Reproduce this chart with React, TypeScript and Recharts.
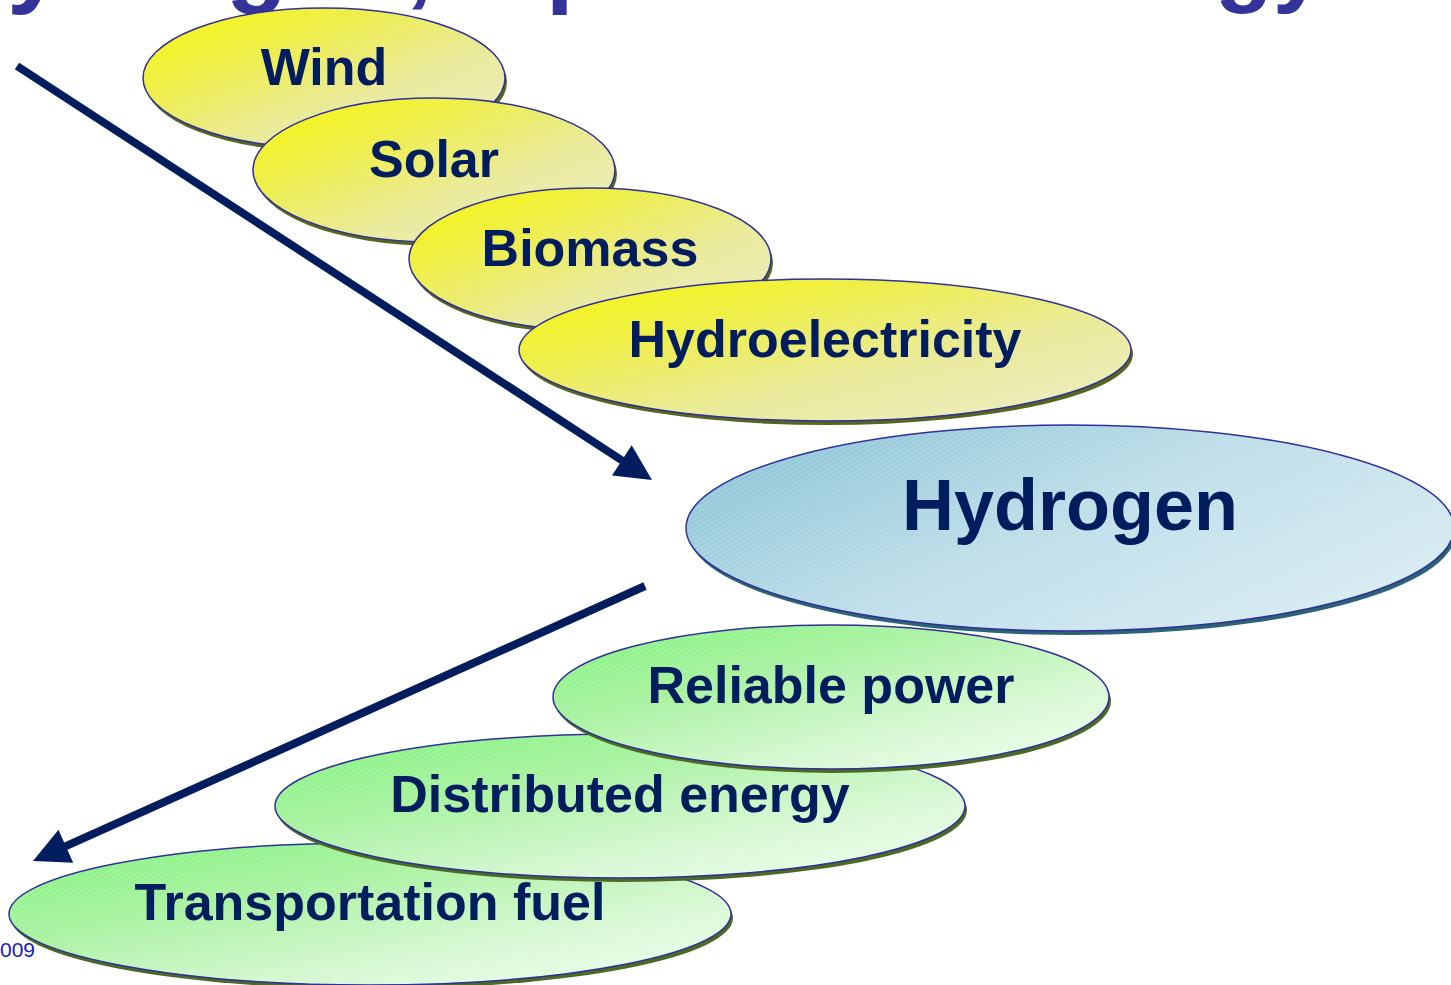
import { ComposedChart, Scatter, XAxis, YAxis } from 'recharts';

const W = 1451;
const H = 985;
const X_DOMAIN: [number, number] = [0, 1451];
const Y_DOMAIN: [number, number] = [0, 985];

// primary sources (yellow), listed back to front
const sourceLabels = ['Wind', 'Solar', 'Biomass', 'Hydroelectricity'];
const sourceX = [324, 434, 590, 825];
const sourceY = [78, 170, 259, 350];
const sourceRx = [181, 181, 181, 306];
const sourceRy = [70, 72, 71, 71];

// carrier (blue)
const carrierLabels = ['Hydrogen'];
const carrierX = [1070];
const carrierY = [528];
const carrierRx = [384];
const carrierRy = [103];

// end uses (green), back to front
const useLabels = ['Transportation fuel', 'Distributed energy', 'Reliable power'];
const useX = [370, 620, 831];
const useY = [914, 806, 697];
const useRx = [361, 345, 278];
const useRy = [71, 72, 72];

// flow arrows
const arrowFromX = [17, 645];
const arrowFromY = [66, 586];
const arrowToX = [652, 33];
const arrowToY = [480, 861];

// slide title, cut off by the top edge
const titleParts = ['Hydrogen, a potential', 'energy'];
const titleX = [-66, 1014];
const titleY = [-6, -6];

const footLabels = ['009'];
const footX = [0];
const footY = [957];

const kx = W / (X_DOMAIN[1] - X_DOMAIN[0]);
const ky = H / (Y_DOMAIN[1] - Y_DOMAIN[0]);

const toBubbles = (labels: string[], xs: number[], ys: number[], rxs: number[], rys: number[]) =>
  labels.map((label, i) => ({ label, x: xs[i], y: ys[i], rx: rxs[i], ry: rys[i] }));

const sources = toBubbles(sourceLabels, sourceX, sourceY, sourceRx, sourceRy);
const carrier = toBubbles(carrierLabels, carrierX, carrierY, carrierRx, carrierRy);
const uses = toBubbles(useLabels, useX, useY, useRx, useRy);
const arrows = arrowFromX.map((x, i) => ({ x, y: arrowFromY[i], tx: arrowToX[i], ty: arrowToY[i] }));
const titles = titleParts.map((label, i) => ({ label, x: titleX[i], y: titleY[i] }));
const foots = footLabels.map((label, i) => ({ label, x: footX[i], y: footY[i] }));

const FONT = "'Liberation Sans', Arial, Helvetica, sans-serif";
const NAVY = '#021d5e';

const bubble = (grad: string, shadow: string, fontSize: number, dy: number) => (props: any) => {
  const { cx, cy, payload } = props;
  const rx = payload.rx * kx;
  const ry = payload.ry * ky;
  return (
    <g>
      <ellipse cx={cx + 2} cy={cy + 4} rx={rx} ry={ry} fill={shadow} />
      <ellipse cx={cx} cy={cy} rx={rx} ry={ry} fill={`url(#${grad})`} />
      <ellipse cx={cx} cy={cy} rx={rx} ry={ry} fill="url(#hatch)" stroke="#30309a" strokeWidth={1.5} />
      <text x={cx} y={cy + dy} textAnchor="middle" fontFamily={FONT} fontWeight="bold" fontSize={fontSize} fill={NAVY}>
        {payload.label}
      </text>
    </g>
  );
};

const ArrowShape = (props: any) => {
  const { cx, cy, payload } = props;
  const ex = cx + (payload.tx - payload.x) * kx;
  const ey = cy + (payload.ty - payload.y) * ky;
  const len = Math.hypot(ex - cx, ey - cy);
  const ux = (ex - cx) / len;
  const uy = (ey - cy) / len;
  const head = 36;
  const half = 18;
  const bx = ex - ux * head;
  const by = ey - uy * head;
  const pts = [
    [ex, ey],
    [bx - uy * half, by + ux * half],
    [bx + uy * half, by - ux * half],
  ].map((p) => p.join(',')).join(' ');
  return (
    <g>
      <line x1={cx} y1={cy} x2={bx + ux * 3} y2={by + uy * 3} stroke={NAVY} strokeWidth={8} />
      <polygon points={pts} fill={NAVY} />
    </g>
  );
};

const TitleShape = (props: any) => (
  <text x={props.cx} y={props.cy} fontFamily={FONT} fontWeight="bold" fontSize={props.index === 0 ? 101 : 95} fill="#333399">
    {props.payload.label}
  </text>
);

const FootShape = (props: any) => (
  <text x={props.cx} y={props.cy} fontFamily={FONT} fontSize={21} fill="#1c1cb0">
    {props.payload.label}
  </text>
);

export default function App() {
  return (
    <div style={{ position: 'fixed', left: 0, top: 0, width: W, height: H, background: '#fff', overflow: 'hidden' }}>
      <ComposedChart width={W} height={H} margin={{ top: 0, right: 0, bottom: 0, left: 0 }}>
        <defs>
          <linearGradient id="gYellow" x1="0" y1="0" x2="1" y2="1">
            <stop offset="0" stopColor="#f8f800" />
            <stop offset="0.3" stopColor="#eeee40" />
            <stop offset="0.62" stopColor="#e9e998" />
            <stop offset="1" stopColor="#eeeec6" />
          </linearGradient>
          <linearGradient id="gGreen" x1="0" y1="0" x2="1" y2="1">
            <stop offset="0" stopColor="#7ef47a" />
            <stop offset="0.35" stopColor="#a8f2a0" />
            <stop offset="0.7" stopColor="#d8f8d4" />
            <stop offset="1" stopColor="#f2fff2" />
          </linearGradient>
          <linearGradient id="gBlue" x1="0" y1="0.2" x2="1" y2="0.8">
            <stop offset="0" stopColor="#8cc4d6" />
            <stop offset="0.45" stopColor="#bcdde8" />
            <stop offset="1" stopColor="#dbedf3" />
          </linearGradient>
          <pattern id="hatch" width="4" height="4" patternUnits="userSpaceOnUse" patternTransform="rotate(-30)">
            <line x1="0" y1="0" x2="4" y2="0" stroke="#ffffff" strokeOpacity={0.35} strokeWidth={1} />
          </pattern>
        </defs>
        <XAxis type="number" dataKey="x" domain={X_DOMAIN} hide allowDataOverflow />
        <YAxis type="number" dataKey="y" domain={Y_DOMAIN} reversed hide allowDataOverflow />
        <Scatter data={titles} shape={TitleShape} isAnimationActive={false} />
        <Scatter data={arrows} shape={ArrowShape} isAnimationActive={false} />
        <Scatter data={sources} shape={bubble('gYellow', '#56661c', 52, 7)} isAnimationActive={false} />
        <Scatter data={uses} shape={bubble('gGreen', '#4b6a24', 52, 6)} isAnimationActive={false} />
        <Scatter data={carrier} shape={bubble('gBlue', '#2b6474', 72, 2)} isAnimationActive={false} />
        <Scatter data={foots} shape={FootShape} isAnimationActive={false} />
      </ComposedChart>
    </div>
  );
}
